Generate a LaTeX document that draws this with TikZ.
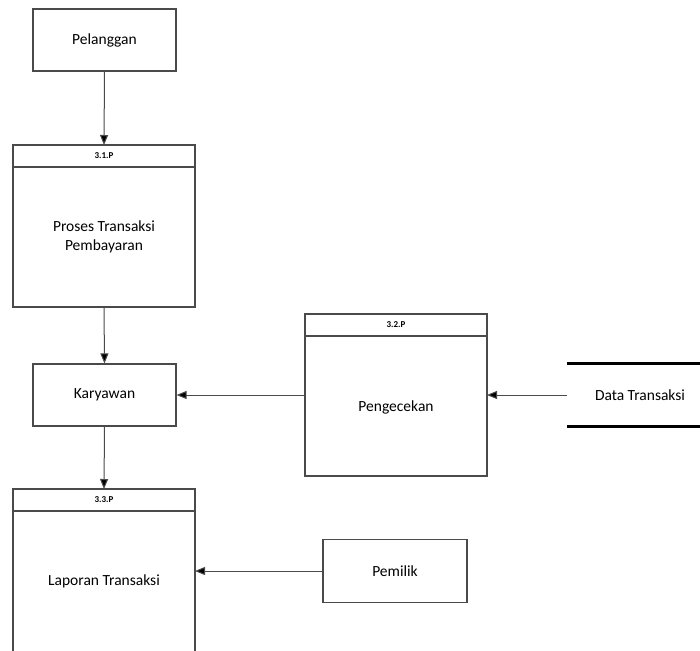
\documentclass[tikz,border=0pt]{standalone}
\usepackage{fontspec}
\setmainfont{Carlito}
\usetikzlibrary{arrows.meta}
\definecolor{edgegray}{HTML}{4A4A4A}
\tikzset{
  box/.style={draw=edgegray, line width=1.2pt, fill=white},
  lbl/.style={font=\fontsize{15.5}{18.5}\selectfont, align=center},
  hdr/.style={font=\bfseries\fontsize{9}{10}\selectfont},
  flow/.style={draw=edgegray, line width=1pt, -{Triangle[length=10pt,width=8pt,fill=black]}},
  store/.style={draw=black, line width=3pt},
}
\begin{document}
\begin{tikzpicture}[x=1pt,y=-1pt]
\useasboundingbox (0,0) rectangle (700,650);
\clip (0,0) rectangle (700,650);
% external entities
\node[box, minimum width=143pt, minimum height=62pt, lbl] (pel) at (104.5,40) {Pelanggan};
\node[box, minimum width=143pt, minimum height=62pt, lbl] (kar) at (104.5,395) {Karyawan};
\node[box, minimum width=144pt, minimum height=63pt, lbl] (pem) at (395,571) {Pemilik};
% process 3.1
\draw[box] (13,145) rectangle (195,307);
\draw[edgegray, line width=1.2pt] (13,167) -- (195,167);
\node[hdr] (h1) at (104,156) {3.1.P};
\node[lbl] (p1) at (104,237) {Proses Transaksi\\Pembayaran};
\coordinate (p1t) at (104,145);
\coordinate (p1b) at (104,307);
% process 3.2
\draw[box] (305,314) rectangle (487,476);
\draw[edgegray, line width=1.2pt] (305,336) -- (487,336);
\node[hdr] (h2) at (396,325) {3.2.P};
\node[lbl] (p2) at (396,407) {Pengecekan};
\coordinate (p2l) at (305,395);
\coordinate (p2r) at (487,395);
% process 3.3
\draw[box] (13,489) rectangle (195,670);
\draw[edgegray, line width=1.2pt] (13,511) -- (195,511);
\node[hdr] (h3) at (104,500) {3.3.P};
\node[lbl] (p3) at (104,581) {Laporan Transaksi};
\coordinate (p3t) at (104,489);
\coordinate (p3r) at (195,571);
% data store
\draw[store] (567,363.5) -- (702,363.5);
\draw[store] (567,426) -- (702,426);
\node[lbl] (ds) at (640,395) {Data Transaksi};
\coordinate (dsl) at (567,395);
% flows
\draw[flow] (pel.south) -- (p1t);
\draw[flow] (p1b) -- (kar.north);
\draw[flow] (p2l) -- (kar.east);
\draw[flow] (dsl) -- (p2r);
\draw[flow] (kar.south) -- (p3t);
\draw[flow] (pem.west) -- (p3r);
\end{tikzpicture}
\end{document}
